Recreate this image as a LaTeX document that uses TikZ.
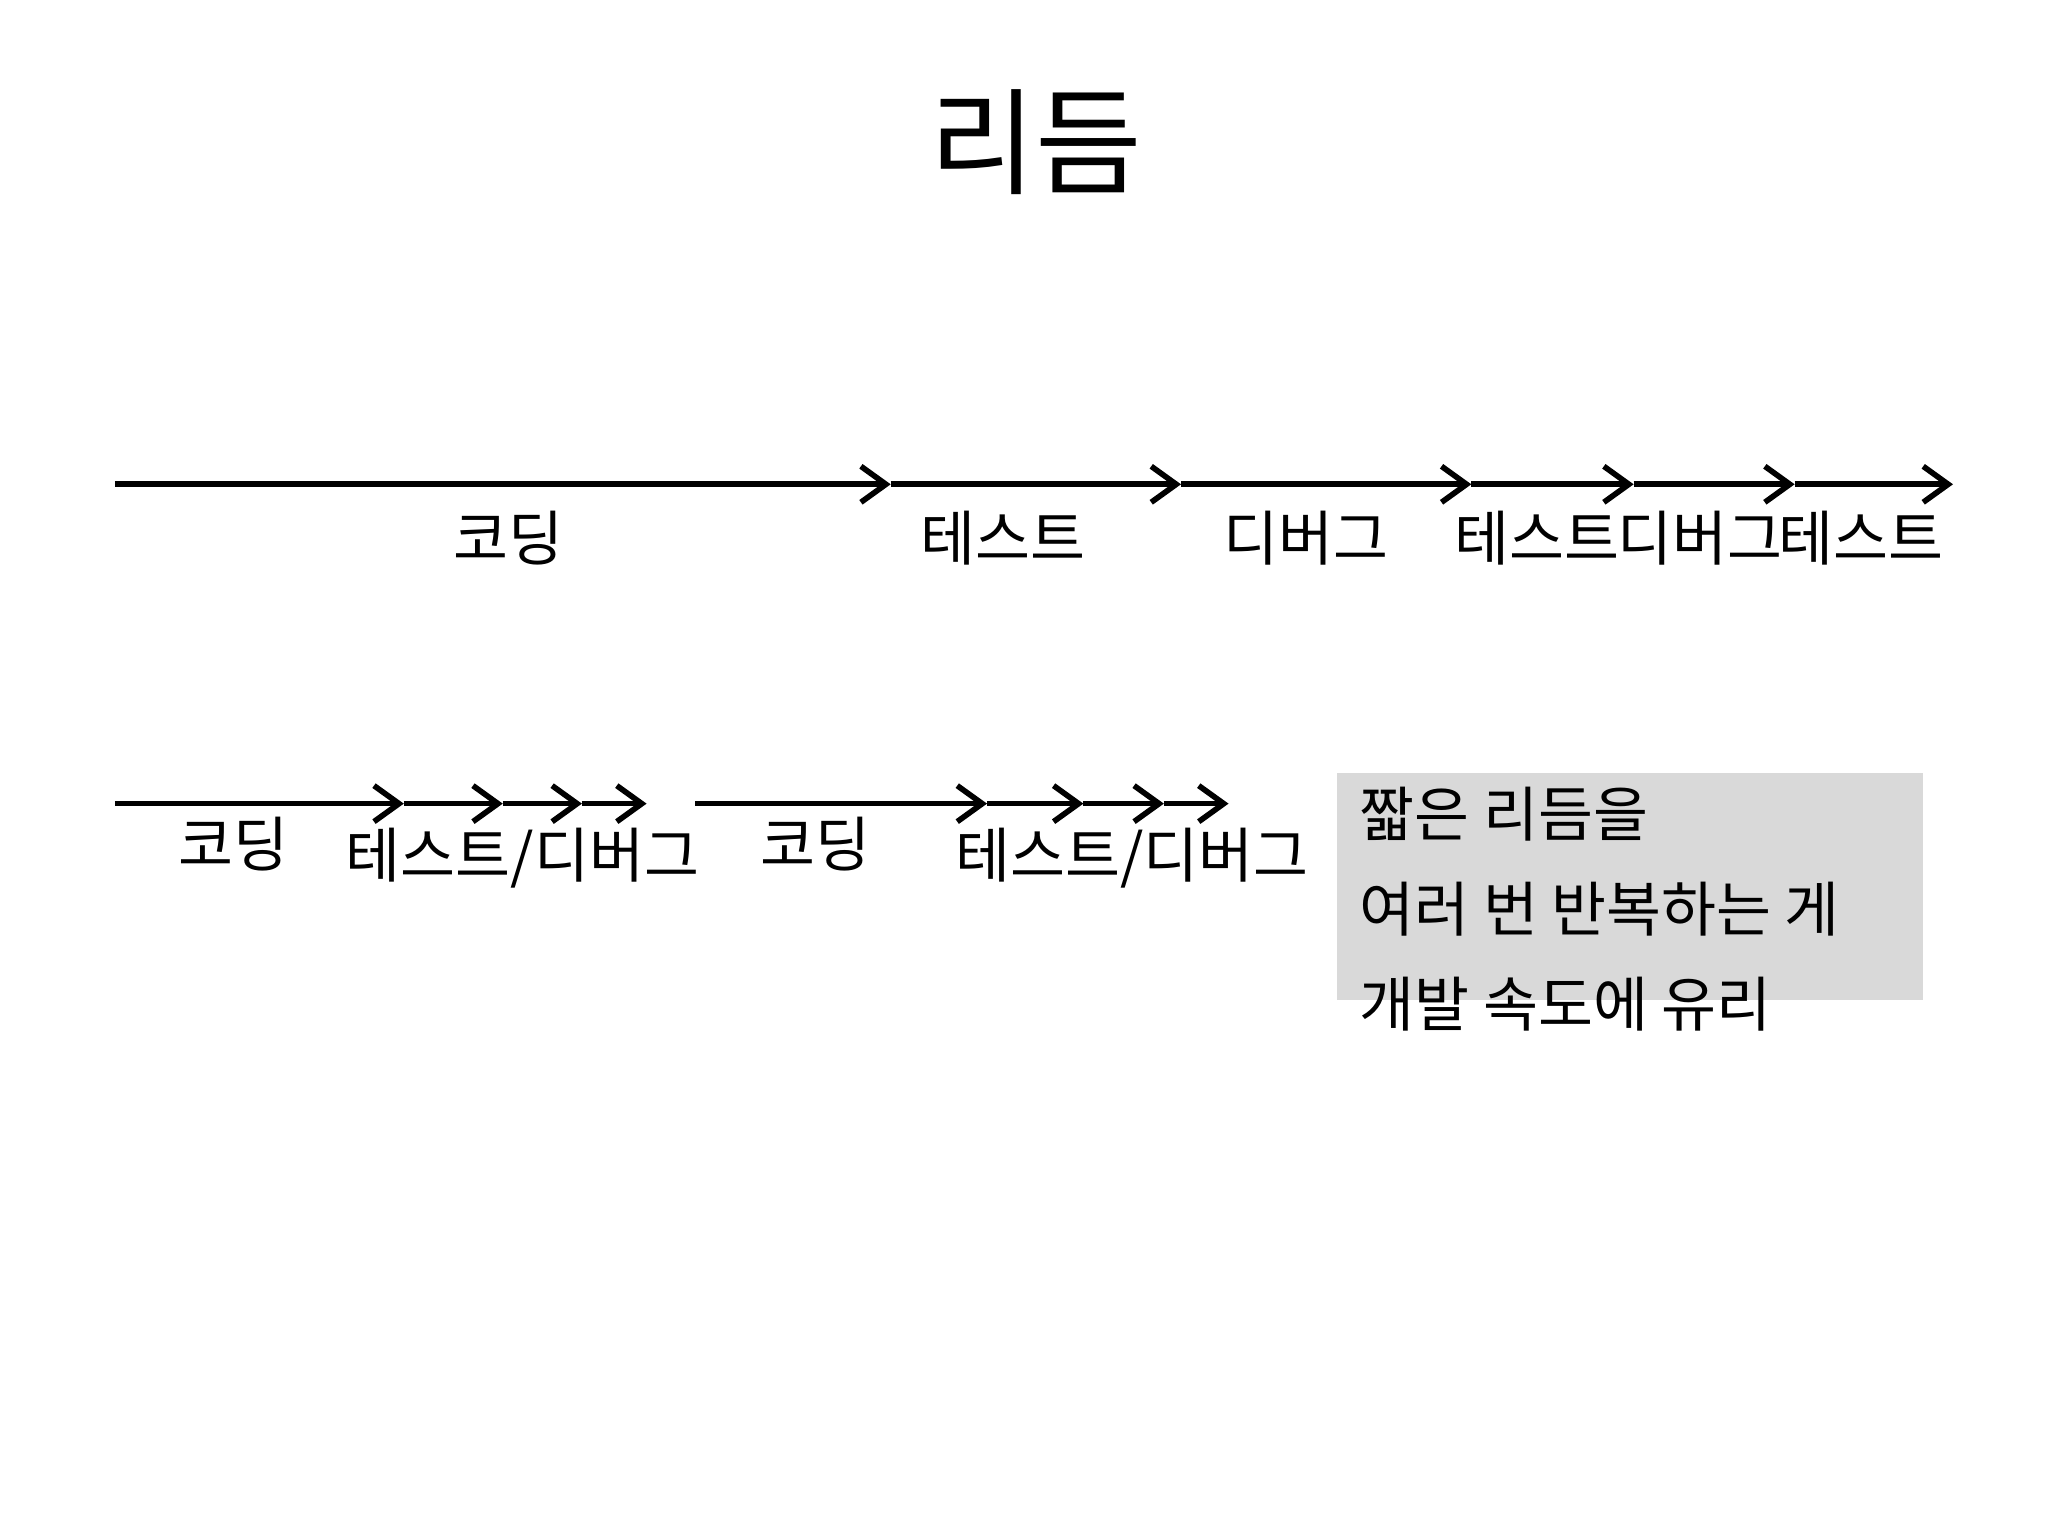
\documentclass[tikz,border=0pt]{standalone}
\usepackage{fontspec}
\setmainfont{Noto Sans CJK KR}
\usetikzlibrary{arrows.meta}
\begin{document}
\begin{tikzpicture}[x=0.013196cm,y=-0.013196cm,
  arr/.style={line width=1.6pt,-{Straight Barb[length=0.25cm,width=0.36cm,line width=1.6pt]}},
  lbl/.style={font=\fontsize{17}{20}\selectfont,inner sep=0pt},
  note/.style={font=\fontsize{17}{27}\selectfont,align=left,inner sep=0pt,anchor=north west}]
\useasboundingbox (0,0) rectangle (1552,1164);
\node[font=\fontsize{33}{38}\selectfont] (title) at (785,108) {리듬};
% row 1
\foreach \n/\x in {a/87,b/675,c/895,d/1115,e/1238,f/1360,g/1480}{\coordinate (r\n) at (\x,367);}
\draw[arr] (ra) -- (rb); \draw[arr] (rb) -- (rc); \draw[arr] (rc) -- (rd);
\draw[arr] (rd) -- (re); \draw[arr] (re) -- (rf); \draw[arr] (rf) -- (rg);
\node[lbl] (l1) at (385,408) {코딩};
\node[lbl] (l2) at (760,408) {테스트};
\node[lbl] (l3) at (990,408) {디버그};
\node[lbl] (l4) at (1165,408) {테스트};
\node[lbl] (l5) at (1288,408) {디버그};
\node[lbl] (l6) at (1410,408) {테스트};
% row 2
\foreach \n/\x in {a/87,b/306,c/381,d/441,e/490}{\coordinate (s\n) at (\x,609);}
\foreach \n/\x in {a/527,b/748,c/821,d/882,e/931}{\coordinate (t\n) at (\x,609);}
\draw[arr] (sa) -- (sb); \draw[arr] (sb) -- (sc); \draw[arr] (sc) -- (sd); \draw[arr] (sd) -- (se);
\draw[arr] (ta) -- (tb); \draw[arr] (tb) -- (tc); \draw[arr] (tc) -- (td); \draw[arr] (td) -- (te);
\node[lbl] (m1) at (177,640) {코딩};
\node[lbl] (m2) at (396,650) {테스트/디버그};
\node[lbl] (m3) at (618,640) {코딩};
\node[lbl] (m4) at (858,650) {테스트/디버그};
\fill[fill={rgb,255:red,217;green,217;blue,217}] (1013,586) rectangle (1457,758);
\node[note] (n) at (1030,596) {짧은 리듬을\\여러 번 반복하는 게\\개발 속도에 유리};
\end{tikzpicture}
\end{document}
